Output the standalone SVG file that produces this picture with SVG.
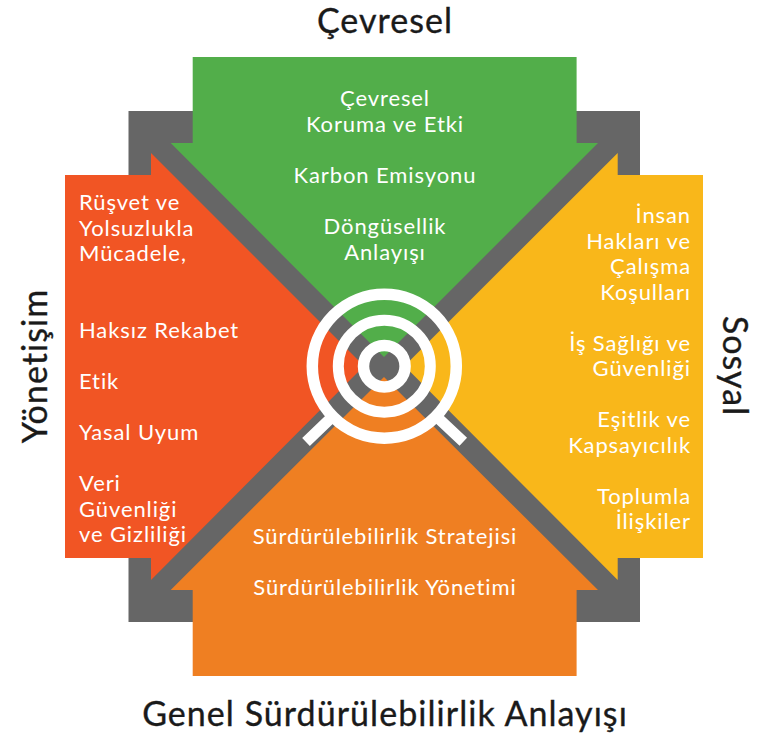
<svg xmlns="http://www.w3.org/2000/svg" width="763" height="735" viewBox="0 0 763 735">
<style>
text{font-family:"Lato","Liberation Sans",sans-serif}
.t{font-size:22px;fill:#fff;letter-spacing:.9px}
.m{text-anchor:middle}.e{text-anchor:end}
.h{font-size:34px;fill:#1a1a1a;text-anchor:middle;letter-spacing:1.05px;stroke:#1a1a1a;stroke-width:.35px}
.r{fill:none;stroke:#fff}
</style>
<rect width="763" height="735" fill="#fff"/>
<g id="connectors"><rect x="128.500" y="111" width="511.500" height="511" fill="#666"/></g>
<g id="cevresel"><polygon points="192.700,57 576.600,57 576.600,143 598,143 384,357 170.700,143 192.700,143" fill="#52ae4a"/>
<text class="t m" x="385" y="106">Çevresel</text><text class="t m" x="385" y="132">Koruma ve Etki</text><text class="t m" x="385" y="183">Karbon Emisyonu</text><text class="t m" x="385" y="234">Döngüsellik</text><text class="t m" x="385" y="260">Anlayışı</text></g>
<g id="yonetisim"><polygon points="65,175 151,175 151,153 364,366 151,580 151,558 65,558" fill="#f15524"/>
<text class="t" x="79" y="210">Rüşvet ve</text><text class="t" x="79" y="236">Yolsuzlukla</text><text class="t" x="79" y="261">Mücadele,</text><text class="t" x="79" y="338">Haksız Rekabet</text><text class="t" x="79" y="389">Etik</text><text class="t" x="79" y="440">Yasal Uyum</text><text class="t" x="79" y="491">Veri</text><text class="t" x="79" y="517">Güvenliği</text><text class="t" x="79" y="542">ve Gizliliği</text></g>
<g id="sosyal"><polygon points="703,175 617.700,175 617.700,153 404.500,366 617.700,580 617.700,558 703,558" fill="#f9b71a"/>
<text class="t e" x="691" y="223">İnsan</text><text class="t e" x="691" y="249">Hakları ve</text><text class="t e" x="691" y="274">Çalışma</text><text class="t e" x="691" y="300">Koşulları</text><text class="t e" x="691" y="351">İş Sağlığı ve</text><text class="t e" x="691" y="376">Güvenliği</text><text class="t e" x="691" y="427">Eşitlik ve</text><text class="t e" x="691" y="453">Kapsayıcılık</text><text class="t e" x="691" y="504">Toplumla</text><text class="t e" x="691" y="529">İlişkiler</text></g>
<g id="genel"><polygon points="192.700,676 576.600,676 576.600,590 598,590 384,377 170.700,590 192.700,590" fill="#ef7f22"/>
<text class="t m" x="385" y="544">Sürdürülebilirlik Stratejisi</text><text class="t m" x="385" y="595">Sürdürülebilirlik Yönetimi</text></g>
<g id="target">
<circle class="r" cx="384.300" cy="366.200" r="72" stroke-width="11.500"/>
<circle class="r" cx="384.300" cy="366.200" r="46" stroke-width="11"/>
<circle class="r" cx="384.300" cy="366.200" r="20.800" stroke-width="11.500"/>
<path class="r" d="M306 442L331 418M463.300 441.700L438 418" stroke-width="11"/>
</g>
<g id="labels">
<text class="h" x="385" y="33">Çevresel</text>
<text class="h" x="385" y="726">Genel Sürdürülebilirlik Anlayışı</text>
<text class="h" transform="translate(47 366) rotate(-90)">Yönetişim</text>
<text class="h" transform="translate(723 366) rotate(90)">Sosyal</text>
</g>
</svg>
